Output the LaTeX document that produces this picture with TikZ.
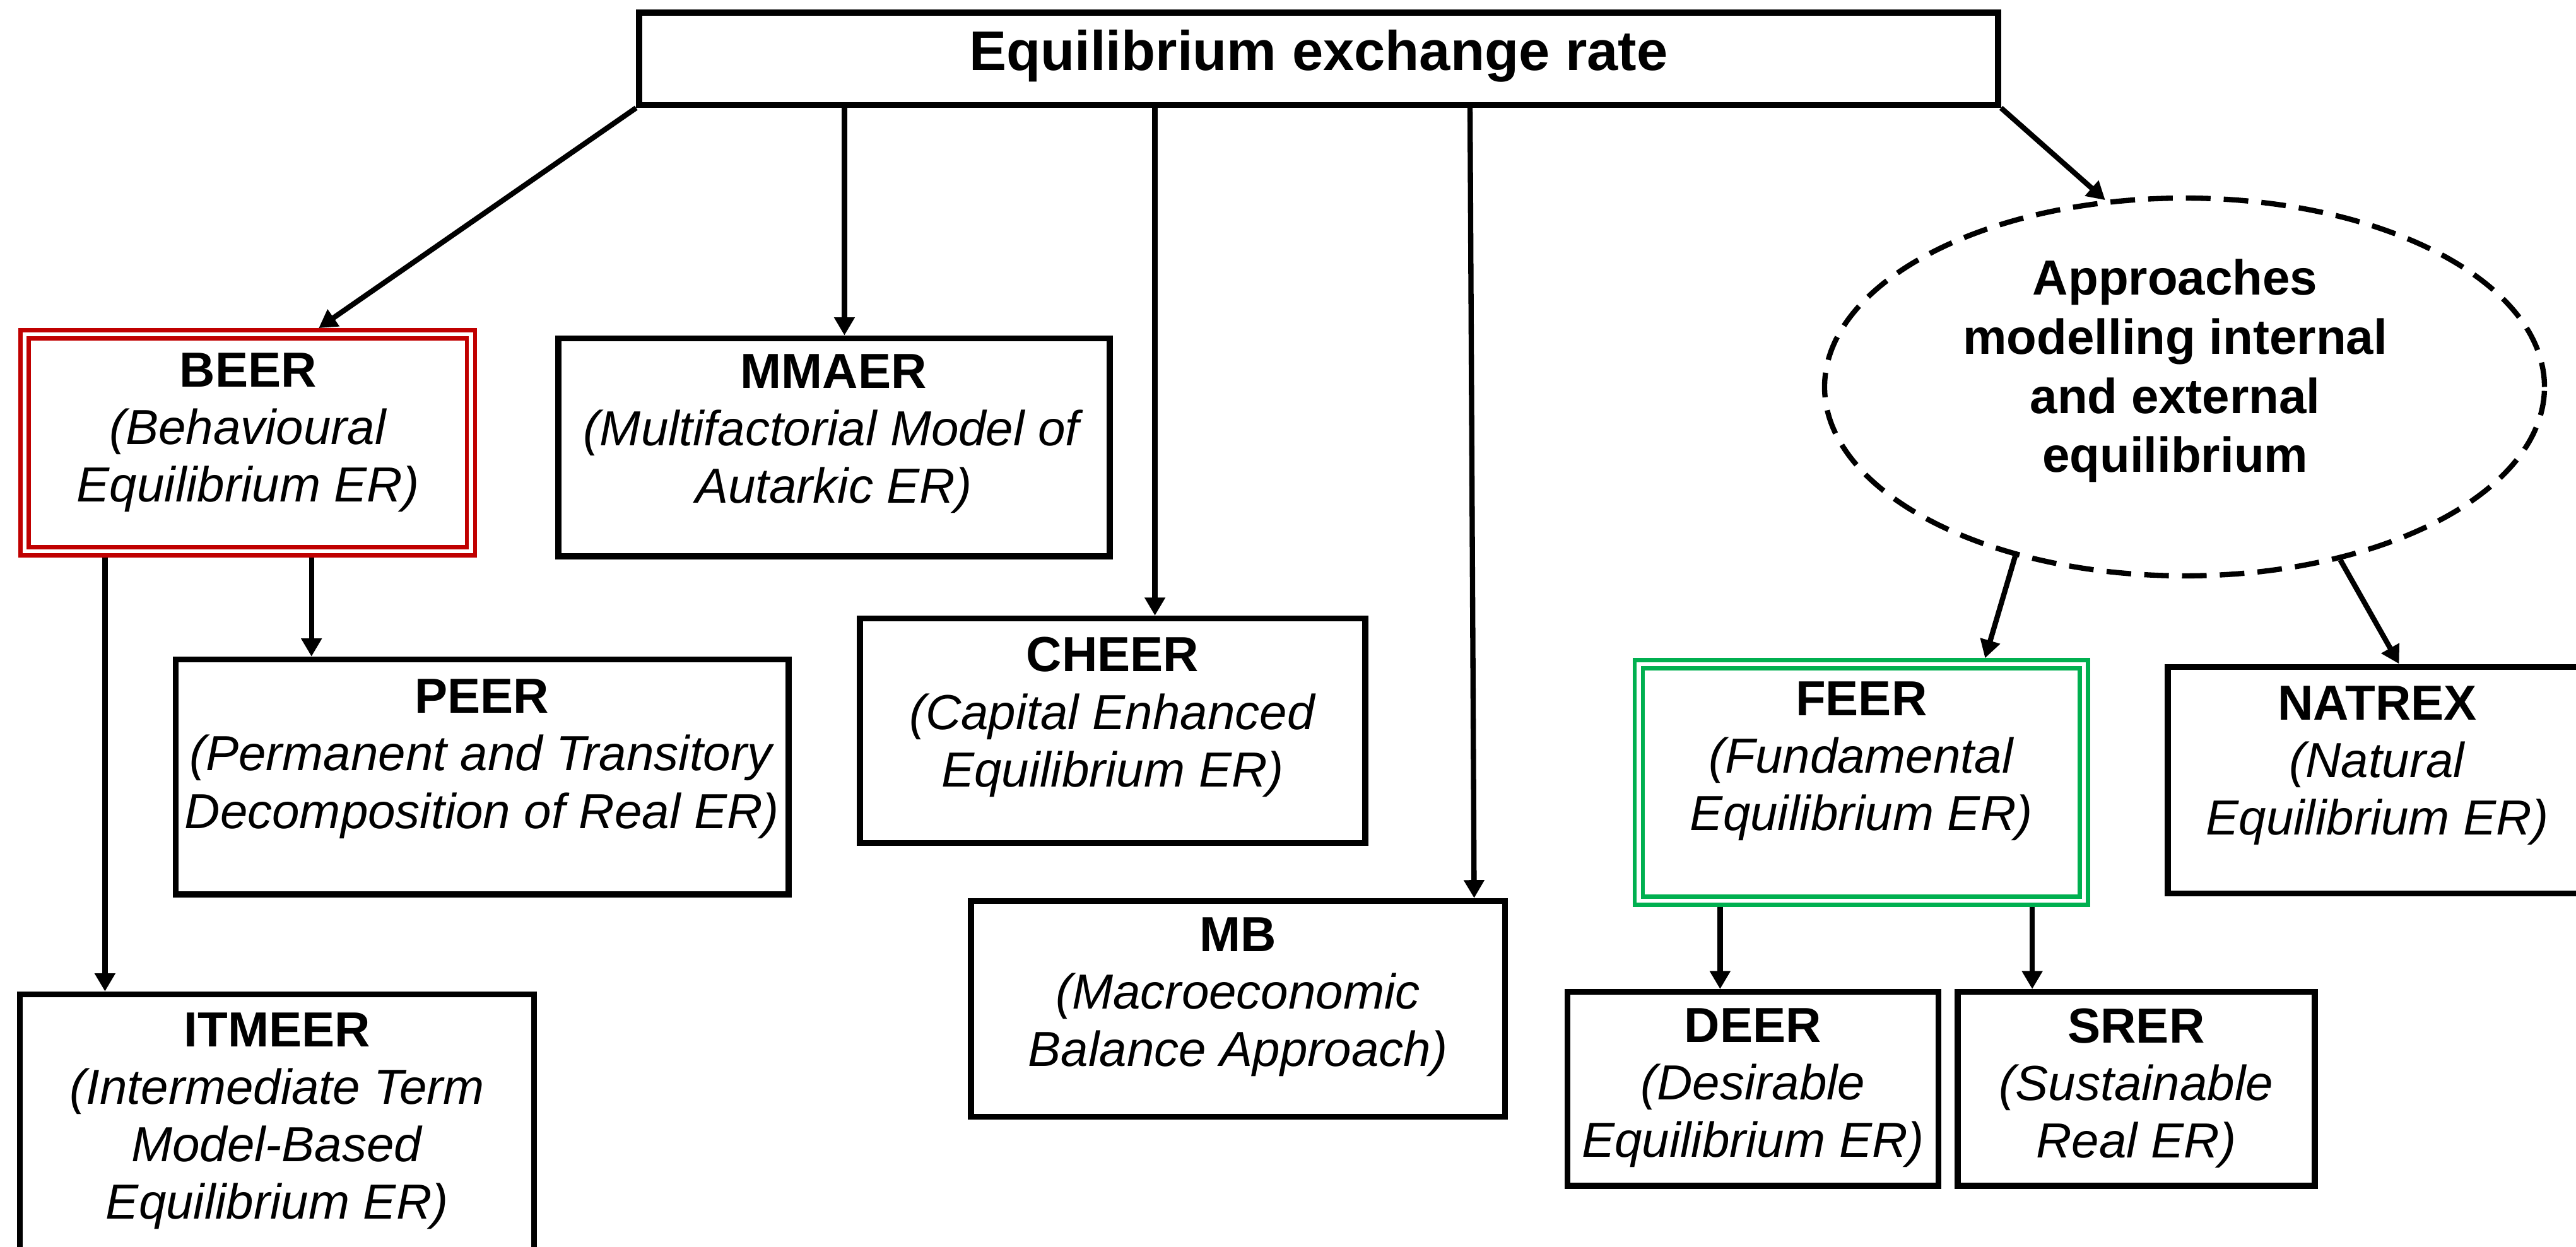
\documentclass[tikz,border=0pt]{standalone}
\usepackage{fontspec}
\setmainfont{Liberation Sans}
\usetikzlibrary{arrows.meta,shapes.geometric}
\definecolor{beerred}{RGB}{192,0,0}
\definecolor{feergreen}{RGB}{0,176,80}

\begin{document}
\begin{tikzpicture}[x=1pt,y=-1pt,
  box/.style={draw=black, line width=3.6pt, rectangle, inner sep=0pt, outer sep=1.8pt},
  dbox/.style={draw=#1, double=white, line width=2.6pt, double distance=2.4pt,
    rectangle, inner sep=0pt, outer sep=3.8pt},
  lbl/.style={inner sep=0pt, outer sep=0pt, anchor=north, align=center,
    font=\fontsize{30}{35}\selectfont},
  arr/.style={line width=3.2pt, -{Triangle[length=11pt,width=12pt]}},
  ]
\useasboundingbox (0,0) rectangle (1568,759);
\clip (0,0) rectangle (1568,759);

% root
\node[box, minimum width=827.2pt, minimum height=56.2pt] (top) at (802.6,35.8) {};
\node[lbl, font=\fontsize{34}{40}\selectfont\bfseries] (toptxt) at (802.6,18.2)
  {Equilibrium exchange rate};

% first level
\node[dbox=beerred, minimum width=271.6pt, minimum height=132.1pt] (beer) at (150.85,269.6) {};
\node[lbl] (beertxt) at (151,214.9)
  {\textbf{BEER}\\\textit{(Behavioural}\\\textit{Equilibrium ER)}};

\node[box, minimum width=335.7pt, minimum height=132.7pt] (mmaer) at (507.65,272.35) {};
\node[lbl] (mmaertxt) at (507.4,215.7)
  {\textbf{MMAER}\\\textit{(Multifactorial Model of}\\\textit{Autarkic ER)}};

\node[box, minimum width=307.6pt, minimum height=136.6pt] (cheer) at (677.2,444.9) {};
\node[lbl] (cheertxt) at (677.2,388)
  {\textbf{CHEER}\\\textit{(Capital Enhanced}\\\textit{Equilibrium ER)}};

\node[box, minimum width=325pt, minimum height=131.4pt] (mb) at (753.5,614.3) {};
\node[lbl] (mbtxt) at (753.5,558.7)
  {\textbf{MB}\\\textit{(Macroeconomic}\\\textit{Balance Approach)}};

\node[ellipse, draw, line width=3.2pt, dash pattern=on 15pt off 8pt,
  minimum width=438.2pt, minimum height=230pt, inner sep=0pt, outer sep=1.6pt]
  (ell) at (1329.7,235.6) {};
\node[lbl, font=\fontsize{30}{36}\selectfont\bfseries] (elltxt) at (1324,157.9)
  {Approaches\\modelling internal\\and external\\equilibrium};

% second level
\node[box, minimum width=373pt, minimum height=143.1pt] (peer) at (293.5,473.05) {};
\node[lbl] (peertxt) at (293.3,413.6)
  {\textbf{PEER}\\\textit{(Permanent and Transitory}\\\textit{Decomposition of Real ER)}};

\node[box, minimum width=313pt, minimum height=194.6pt] (itmeer) at (168.5,702.7) {};
\node[lbl] (itmeertxt) at (168.7,616.5)
  {\textbf{ITMEER}\\\textit{(Intermediate Term}\\\textit{Model-Based}\\\textit{Equilibrium ER)}};

\node[dbox=feergreen, minimum width=271pt, minimum height=143.8pt] (feer) at (1133,476.4) {};
\node[lbl] (feertxt) at (1133,415)
  {\textbf{FEER}\\\textit{(Fundamental}\\\textit{Equilibrium ER)}};

\node[box, minimum width=255.5pt, minimum height=138pt] (natrex) at (1447.25,475) {};
\node[lbl] (natrextxt) at (1447,417.6)
  {\textbf{NATREX}\\\textit{(Natural}\\\textit{Equilibrium ER)}};

\node[box, minimum width=226pt, minimum height=118pt] (deer) at (1067,663) {};
\node[lbl] (deertxt) at (1067,614)
  {\textbf{DEER}\\\textit{(Desirable}\\\textit{Equilibrium ER)}};

\node[box, minimum width=217.4pt, minimum height=118pt] (srer) at (1300.3,663) {};
\node[lbl] (srertxt) at (1300.3,614)
  {\textbf{SRER}\\\textit{(Sustainable}\\\textit{Real ER)}};

% connector columns
\coordinate (xb) at (194,0);
\coordinate (xm) at (514,0);
\coordinate (xc) at (703,0);
\coordinate (xmba) at (894.8,0);
\coordinate (xmbb) at (897.3,0);
\coordinate (xi) at (63.9,0);
\coordinate (xp) at (189.6,0);
\coordinate (xf) at (1208.3,0);
\coordinate (xn) at (1460.3,0);
\coordinate (xd) at (1047,0);
\coordinate (xs) at (1237,0);

% connectors
\draw[arr] (top.south west) -- (xb |- beer.north);
\draw[arr] (xm |- top.south) -- (xm |- mmaer.north);
\draw[arr] (xc |- top.south) -- (xc |- cheer.north);
\draw[arr] (xmba |- top.south) -- (xmbb |- mb.north);
\draw[arr] (top.south east) -- (ell.113.5);
\draw[arr] (xi |- beer.south) -- (xi |- itmeer.north);
\draw[arr] (xp |- beer.south) -- (xp |- peer.north);
\draw[arr] (ell.225) -- (xf |- feer.north);
\draw[arr] (ell.312) -- (xn |- natrex.north);
\draw[arr] (xd |- feer.south) -- (xd |- deer.north);
\draw[arr] (xs |- feer.south) -- (xs |- srer.north);
\end{tikzpicture}
\end{document}
